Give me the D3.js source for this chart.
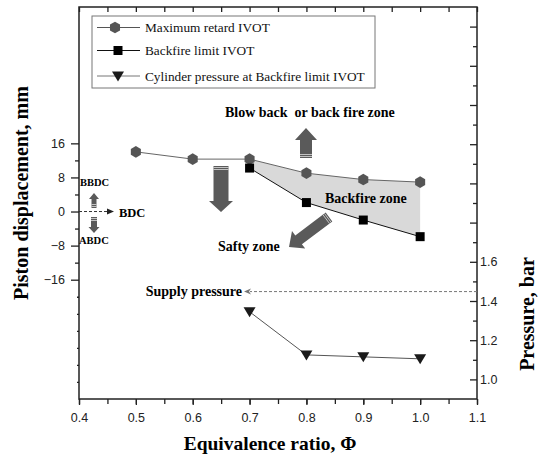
<!DOCTYPE html>
<html><head><meta charset="utf-8">
<script src="https://cdn.jsdelivr.net/npm/d3@7"></script>
<style>body{margin:0;background:#fff}svg{display:block}</style>
</head><body>
<svg id="c" width="541" height="458"></svg>
<script>
const phi = [0.5, 0.6, 0.7, 0.8, 0.9, 1.0];
const maxRetard = [14.0, 12.3, 12.3, 9.0, 7.5, 6.9];
const phiLimit = [0.7, 0.8, 0.9, 1.0];
const backfireLimit = [10.2, 2.1, -2.0, -5.9];
const cylPressure = [1.345, 1.125, 1.115, 1.105];
const supplyPressure = 1.448;
const xTicks = [0.4, 0.5, 0.6, 0.7, 0.8, 0.9, 1.0, 1.1];
const yLeftTicks = [-16, -8, 0, 8, 16];
const yRightTicks = [1.0, 1.2, 1.4, 1.6];
const legendLabels = ["Maximum retard IVOT", "Backfire limit IVOT", "Cylinder pressure at Backfire limit IVOT"];

const svg = d3.select("#c");
const L = 79, R = 477, T = 7, B = 399;
const x = d3.scaleLinear().domain([0.4, 1.1]).range([L, R]);
const yL = d3.scaleLinear().domain([-44, 48]).range([B, T]);
const yR = d3.scaleLinear().domain([0.9, 2.9]).range([B, T]);
const sans = "'Liberation Sans', Arial, sans-serif";
const serif = "'Liberation Serif', 'Times New Roman', serif";

// shaded backfire zone
const zone = [];
phiLimit.forEach((p) => { const i = phi.indexOf(p); zone.push([x(p), yL(maxRetard[i])]); });
for (let i = phiLimit.length - 1; i >= 0; i--) zone.push([x(phiLimit[i]), yL(backfireLimit[i])]);
svg.append("path").attr("d", "M" + zone.join("L") + "Z").attr("fill", "#d9d9d9").attr("stroke", "none");

// axes
const minorX = d3.range(0.4, 1.1001, 0.05);
svg.append("g").attr("transform", `translate(0,${B})`)
  .call(d3.axisBottom(x).tickValues(xTicks).tickFormat(d3.format(".1f")).tickSize(6).tickPadding(8));
svg.append("g").attr("transform", `translate(0,${B})`)
  .call(d3.axisBottom(x).tickValues(minorX).tickFormat("").tickSize(5));
svg.append("g").attr("transform", `translate(0,${T})`)
  .call(d3.axisBottom(x).tickValues(minorX).tickFormat("").tickSize(5));
svg.append("g").attr("transform", `translate(${L},0)`)
  .call(d3.axisLeft(yL).tickValues(yLeftTicks).tickSize(8).tickPadding(6));
svg.append("g").attr("transform", `translate(${L},0)`)
  .call(d3.axisLeft(yL).tickValues([-12, -4, 4, 12]).tickFormat("").tickSize(4));
svg.append("g").attr("transform", `translate(${L},0)`)
  .call(d3.axisLeft(yL).tickValues([-20, -24, -28, -32, -36, -40]).tickFormat("").tickSize(2));
svg.append("g").attr("transform", `translate(${R},0)`)
  .call(d3.axisRight(yR).tickValues(yRightTicks).tickFormat(d3.format(".1f")).tickSize(0).tickPadding(3));
svg.append("g").attr("transform", `translate(${R},0)`)
  .call(d3.axisLeft(yR).tickValues(d3.range(1.0, 2.85, 0.2)).tickFormat("").tickSize(7));
svg.append("g").attr("transform", `translate(${R},0)`)
  .call(d3.axisLeft(yR).tickValues(d3.range(1.1, 2.85, 0.2)).tickFormat("").tickSize(4));
svg.selectAll(".domain").remove();
svg.selectAll(".tick line").attr("stroke", "#222").attr("stroke-width", 1.3);
svg.selectAll(".tick text").attr("font-family", sans).attr("font-size", 12.5).attr("fill", "#222");
// frame
svg.append("rect").attr("x", L).attr("y", T).attr("width", R - L).attr("height", B - T)
  .attr("fill", "none").attr("stroke", "#222").attr("stroke-width", 1.5);

// series lines
const line = d3.line();
svg.append("path").attr("d", line(phi.map((p, i) => [x(p), yL(maxRetard[i])])))
  .attr("fill", "none").attr("stroke", "#666").attr("stroke-width", 1);
svg.append("path").attr("d", line(phiLimit.map((p, i) => [x(p), yL(backfireLimit[i])])))
  .attr("fill", "none").attr("stroke", "#111").attr("stroke-width", 1);
svg.append("path").attr("d", line(phiLimit.map((p, i) => [x(p), yR(cylPressure[i])])))
  .attr("fill", "none").attr("stroke", "#555").attr("stroke-width", 1);

const hex = d3.range(6).map(k => { const a = Math.PI / 6 + k * Math.PI / 3; return [5.8 * Math.cos(a), 5.8 * Math.sin(a)]; });
const hexPath = "M" + hex.join("L") + "Z";
const sqPath = "M-4.5,-4.5H4.5V4.5H-4.5Z";
const triPath = "M-6,-4.5L6,-4.5L0,5.5Z";

svg.selectAll(".hx").data(phi).join("path").attr("class", "hx")
  .attr("transform", (p, i) => `translate(${x(p)},${yL(maxRetard[i])})`).attr("d", hexPath).attr("fill", "#555");
svg.selectAll(".sq").data(phiLimit).join("path").attr("class", "sq")
  .attr("transform", (p, i) => `translate(${x(p)},${yL(backfireLimit[i])})`).attr("d", sqPath).attr("fill", "#000");
svg.selectAll(".tr").data(phiLimit).join("path").attr("class", "tr")
  .attr("transform", (p, i) => `translate(${x(p)},${yR(cylPressure[i])})`).attr("d", triPath).attr("fill", "#1a1a1a");

// supply pressure dashed line
const ys = yR(supplyPressure);
svg.append("line").attr("x1", R).attr("x2", 250).attr("y1", ys).attr("y2", ys)
  .attr("stroke", "#777").attr("stroke-width", 1).attr("stroke-dasharray", "3,2");
svg.append("path").attr("d", `M244,${ys}L251,${ys - 3}L249,${ys}L251,${ys + 3}Z`).attr("fill", "#777");
svg.append("text").attr("x", 242).attr("y", ys + 4.5).attr("text-anchor", "end")
  .attr("font-family", serif).attr("font-weight", "bold").attr("font-size", 14).text("Supply pressure");

// BDC dashed arrow
const y0 = yL(0);
svg.append("line").attr("x1", L).attr("x2", 108).attr("y1", y0).attr("y2", y0)
  .attr("stroke", "#333").attr("stroke-width", 1).attr("stroke-dasharray", "3,2");
svg.append("path").attr("d", `M114,${y0}L107,${y0 - 3}L107,${y0 + 3}Z`).attr("fill", "#222");
svg.append("text").attr("x", 119).attr("y", y0 + 5).attr("font-family", serif).attr("font-weight", "bold").attr("font-size", 12.5).text("BDC");
svg.append("text").attr("x", 80).attr("y", 186).attr("font-family", serif).attr("font-weight", "bold").attr("font-size", 10.5).text("BBDC");
svg.append("text").attr("x", 79).attr("y", 244).attr("font-family", serif).attr("font-weight", "bold").attr("font-size", 10.5).text("ABDC");

// block arrow helper: from tail (x1,y1) to tip (x2,y2)
function blockArrow(x1, y1, x2, y2, sw, hw, hl) {
  const dx = x2 - x1, dy = y2 - y1, len = Math.hypot(dx, dy);
  const ux = dx / len, uy = dy / len, nx = -uy, ny = ux;
  const P = (a, b) => [x1 + ux * a + nx * b, y1 + uy * a + ny * b];
  const pts = [P(0, -sw / 2), P(len - hl, -sw / 2), P(len - hl, -hw / 2), P(len, 0), P(len - hl, hw / 2), P(len - hl, sw / 2), P(0, sw / 2)];
  svg.append("path").attr("d", "M" + pts.join("L") + "Z").attr("fill", "#5a5a5a");
  [1.5, 3.5].forEach(a => {
    const p1 = P(a, -sw / 2), p2 = P(a, sw / 2);
    svg.append("line").attr("x1", p1[0]).attr("y1", p1[1]).attr("x2", p2[0]).attr("y2", p2[1])
      .attr("stroke", "#ddd").attr("stroke-width", 0.8);
  });
}
blockArrow(306, 158, 306, 128, 12, 22, 12);
blockArrow(221, 166, 221, 212, 15, 24, 11);
blockArrow(329, 217, 289, 247, 11, 22, 12);
blockArrow(94, 208, 94, 193, 5, 10, 6);
blockArrow(94, 217, 94, 233, 6, 11, 6);

// annotations
svg.append("text").attr("x", 225).attr("y", 117).attr("font-family", serif).attr("font-weight", "bold").attr("font-size", 14)
  .attr("xml:space", "preserve").text("Blow back  or back fire zone");
svg.append("text").attr("x", 325).attr("y", 202.5).attr("font-family", serif).attr("font-weight", "bold").attr("font-size", 14).text("Backfire zone");
svg.append("text").attr("x", 218).attr("y", 250.5).attr("font-family", serif).attr("font-weight", "bold").attr("font-size", 14).text("Safty zone");

// legend
const lg = svg.append("g");
lg.append("rect").attr("x", 92).attr("y", 16).attr("width", 283).attr("height", 72).attr("fill", "#fff").attr("stroke", "#777").attr("stroke-width", 1);
const rows = [27.5, 50.5, 76];
const lcol = ["#555", "#111", "#777"];
const lmark = [[hexPath, "#555"], [sqPath, "#000"], [triPath, "#1a1a1a"]];
legendLabels.forEach((t, i) => {
  lg.append("line").attr("x1", 97).attr("x2", 140).attr("y1", rows[i]).attr("y2", rows[i]).attr("stroke", lcol[i]).attr("stroke-width", 1);
  lg.append("path").attr("transform", `translate(${i === 0 ? 115 : 118},${rows[i]})`).attr("d", lmark[i][0]).attr("fill", lmark[i][1]);
  lg.append("text").attr("x", 145).attr("y", rows[i] + 4.5).attr("font-family", serif).attr("font-size", 13.3).attr("fill", "#111").text(t);
});

// axis titles
svg.append("text").attr("transform", `translate(28,193) rotate(-90)`).attr("text-anchor", "middle")
  .attr("font-family", serif).attr("font-weight", "bold").attr("font-size", 20).text("Piston displacement, mm");
svg.append("text").attr("transform", `translate(534,314) rotate(-90)`).attr("text-anchor", "middle")
  .attr("font-family", serif).attr("font-weight", "bold").attr("font-size", 20).text("Pressure, bar");
svg.append("text").attr("x", 270).attr("y", 450).attr("text-anchor", "middle")
  .attr("font-family", serif).attr("font-weight", "bold").attr("font-size", 19.5).text("Equivalence ratio, Φ");
</script>
</body></html>
